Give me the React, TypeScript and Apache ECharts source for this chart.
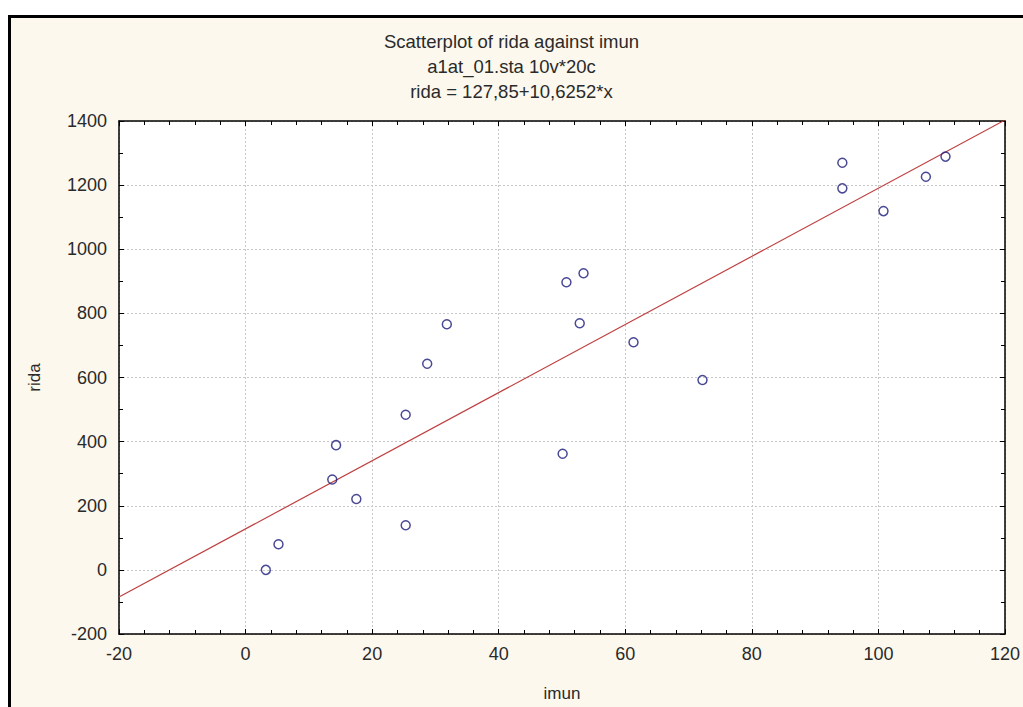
import React, { useEffect, useRef } from "react";
import * as echarts from "echarts";

const titleLines = [
  "Scatterplot of rida against imun",
  "a1at_01.sta 10v*20c",
  "rida = 127,85+10,6252*x",
];
const xName = "imun";
const yName = "rida";

const imun = [3.2, 5.2, 13.7, 14.3, 17.5, 25.3, 25.3, 28.7, 31.8, 50.1, 50.7, 53.4, 52.8, 61.3, 72.2, 94.3, 94.3, 100.8, 107.5, 110.6];
const rida = [0, 80, 282, 389, 221, 139, 484, 643, 766, 362, 897, 925, 769, 710, 592, 1270, 1190, 1119, 1226, 1289];

const intercept = 127.85;
const slope = 10.6252;
const xRange = [-20, 120];
const yRange = [-200, 1400];

export default function App() {
  const ref = useRef<HTMLDivElement>(null);
  useEffect(() => {
    const chart = echarts.init(ref.current!, null, { renderer: "svg" });
    const font = "'Liberation Sans', Arial, sans-serif";
    const pts = imun.map((x, i) => [x, rida[i]]);
    const fit = xRange.map((x) => [x, intercept + slope * x]);
    const tickCommon = { show: true, inside: true, length: 5, lineStyle: { color: "#000", width: 1 } };
    const fmt = (v: number) => String(v);
    chart.setOption({
      animation: false,
      backgroundColor: "#ffffff",
      title: {
        text: titleLines.join("\n"),
        left: "center",
        top: 24,
        textStyle: { fontFamily: font, fontSize: 18.5, fontWeight: "normal", color: "#2a2a2a", lineHeight: 25 },
      },
      graphic: [
        {
          type: "rect",
          z: -10,
          silent: true,
          shape: { x: 9.5, y: 16.5, width: 1100, height: 800 },
          style: { fill: "#fcf8ee", stroke: "#000", lineWidth: 3 },
        },
      ],
      grid: {
        left: 119,
        top: 121,
        width: 891,
        height: 520,
        show: true,
        backgroundColor: "#ffffff",
        borderWidth: 0,
        containLabel: false,
      },
      xAxis: [
        {
          type: "value",
          min: xRange[0],
          max: xRange[1],
          interval: 20,
          position: "bottom",
          name: xName,
          nameLocation: "middle",
          nameGap: 51,
          nameTextStyle: { fontFamily: font, fontSize: 17, color: "#2a2a2a" },
          axisLine: { show: true, onZero: false, lineStyle: { color: "#000", width: 1.5 } },
          axisTick: tickCommon,
          minorTick: { show: true, splitNumber: 5, length: 4, lineStyle: { color: "#000", width: 1 } },
          axisLabel: { fontFamily: font, fontSize: 18, color: "#2a2a2a", margin: 11, formatter: fmt },
          splitLine: { show: true, lineStyle: { color: "#c8c8c8", type: [2, 2], width: 1 } },
        },
        {
          type: "value",
          min: xRange[0],
          max: xRange[1],
          interval: 20,
          position: "top",
          axisLine: { show: true, onZero: false, lineStyle: { color: "#000", width: 1.5 } },
          axisTick: tickCommon,
          minorTick: { show: true, splitNumber: 5, length: 4, lineStyle: { color: "#000", width: 1 } },
          axisLabel: { show: false },
          splitLine: { show: false },
        },
      ],
      yAxis: [
        {
          type: "value",
          min: yRange[0],
          max: yRange[1],
          interval: 200,
          position: "left",
          name: yName,
          nameLocation: "middle",
          nameGap: 76,
          nameTextStyle: { fontFamily: font, fontSize: 17, color: "#2a2a2a" },
          axisLine: { show: true, onZero: false, lineStyle: { color: "#000", width: 1.5 } },
          axisTick: tickCommon,
          minorTick: { show: true, splitNumber: 2, length: 4, lineStyle: { color: "#000", width: 1 } },
          axisLabel: { fontFamily: font, fontSize: 18, color: "#2a2a2a", margin: 12, formatter: fmt },
          splitLine: { show: true, lineStyle: { color: "#c8c8c8", type: [2, 2], width: 1 } },
        },
        {
          type: "value",
          min: yRange[0],
          max: yRange[1],
          interval: 200,
          position: "right",
          axisLine: { show: true, onZero: false, lineStyle: { color: "#000", width: 1.5 } },
          axisTick: tickCommon,
          minorTick: { show: true, splitNumber: 2, length: 4, lineStyle: { color: "#000", width: 1 } },
          axisLabel: { show: false },
          splitLine: { show: false },
        },
      ],
      series: [
        {
          type: "line",
          data: fit,
          xAxisIndex: 0,
          yAxisIndex: 0,
          symbol: "none",
          clip: true,
          lineStyle: { color: "#bf4040", width: 1.2 },
          z: 2,
        },
        {
          type: "scatter",
          data: pts,
          xAxisIndex: 0,
          yAxisIndex: 0,
          symbol: "circle",
          symbolSize: 9,
          itemStyle: { color: "rgba(255,255,255,0)", borderColor: "#1c1c7a", borderWidth: 1.5 },
          z: 3,
        },
      ],
    });
    return () => chart.dispose();
  }, []);
  return (
    <div
      ref={ref}
      style={{ position: "absolute", left: 0, top: 0, width: 1023, height: 707 }}
    />
  );
}
